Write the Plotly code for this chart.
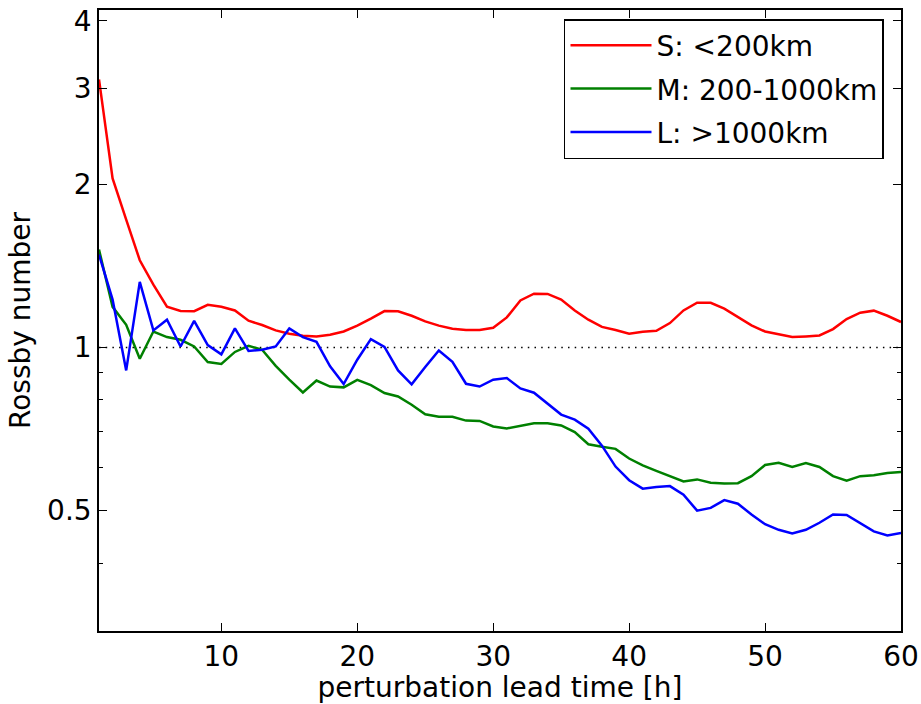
import plotly.graph_objects as go

# lead time [h]
lead_time = list(range(1, 61))

# Rossby number per scale band
small_S = [3.12, 2.05, 1.72, 1.448, 1.305, 1.189, 1.167, 1.166, 1.198, 1.188,
           1.170, 1.120, 1.100, 1.075, 1.060, 1.051, 1.048, 1.055, 1.070, 1.097,
           1.130, 1.167, 1.166, 1.144, 1.117, 1.097, 1.083, 1.077, 1.077, 1.087,
           1.136, 1.221, 1.256, 1.255, 1.225, 1.170, 1.125, 1.091, 1.077, 1.060,
           1.069, 1.073, 1.109, 1.170, 1.209, 1.209, 1.179, 1.139, 1.098, 1.070,
           1.057, 1.045, 1.048, 1.052, 1.081, 1.128, 1.159, 1.169, 1.144, 1.114]

medium_M = [1.515, 1.188, 1.101, 0.953, 1.070, 1.045, 1.033, 1.004, 0.940, 0.932,
            0.981, 1.007, 0.990, 0.925, 0.872, 0.826, 0.869, 0.847, 0.844, 0.871,
            0.852, 0.824, 0.812, 0.784, 0.753, 0.745, 0.745, 0.733, 0.732, 0.715,
            0.709, 0.716, 0.725, 0.725, 0.718, 0.698, 0.663, 0.656, 0.650, 0.624,
            0.606, 0.592, 0.579, 0.566, 0.571, 0.563, 0.561, 0.562, 0.579, 0.607,
            0.613, 0.602, 0.612, 0.602, 0.579, 0.568, 0.579, 0.581, 0.587, 0.589]

large_L = [1.483, 1.225, 0.907, 1.321, 1.075, 1.125, 1.004, 1.119, 1.010, 0.971,
           1.084, 0.985, 0.990, 1.004, 1.084, 1.045, 1.024, 0.923, 0.856, 0.949,
           1.036, 1.002, 0.907, 0.855, 0.920, 0.987, 0.941, 0.857, 0.847, 0.872,
           0.878, 0.840, 0.825, 0.789, 0.752, 0.736, 0.708, 0.659, 0.603, 0.569,
           0.549, 0.553, 0.555, 0.535, 0.500, 0.506, 0.523, 0.515, 0.492, 0.472,
           0.461, 0.454, 0.461, 0.475, 0.492, 0.491, 0.475, 0.458, 0.450, 0.455]

series_names = ["S: <200km", "M: 200-1000km", "L: >1000km"]
series_colors = ["#ff0000", "#008000", "#0000ff"]

ref_level = 1.0
y_major_ticks = [0.5, 1, 2, 3, 4]
y_major_text = ["0.5", "1", "2", "3", "4"]
y_minor_ticks = [0.4, 0.6, 0.7, 0.8, 0.9]
x_ticks = [10, 20, 30, 40, 50, 60]

FONT = "DejaVu Sans"

fig = go.Figure()

fig.add_trace(go.Scatter(
    x=[lead_time[0], lead_time[-1]], y=[ref_level, ref_level],
    mode="lines", line=dict(color="black", width=1.5, dash="1.5px,5.2px"),
    showlegend=False, hoverinfo="skip"))

for name, vals, col in zip(series_names, [small_S, medium_M, large_L], series_colors):
    fig.add_trace(go.Scatter(
        x=lead_time, y=vals, mode="lines", name=name,
        line=dict(color=col, width=2.5), legendgroup=name))

axis_common = dict(
    showline=True, linecolor="black", linewidth=1.5, mirror="ticks",
    ticks="inside", ticklen=8, tickwidth=1, tickcolor="black",
    showgrid=False, zeroline=False, automargin=False,
    tickfont=dict(family=FONT, size=28, color="black"),
)

fig.update_xaxes(
    range=[1, 60], tickvals=x_ticks,
    title=dict(text="perturbation lead time [h]", font=dict(family=FONT, size=28, color="black"), standoff=4),
    **axis_common)

fig.update_yaxes(
    type="log", range=[-0.5229, 0.6222],
    tickvals=y_major_ticks, ticktext=y_major_text,
    minor=dict(tickvals=y_minor_ticks, ticks="inside", ticklen=4, tickcolor="black", tickwidth=1, showgrid=False),
    title=dict(text="Rossby number", font=dict(family=FONT, size=28, color="black"), standoff=8),
    **axis_common)

fig.update_layout(
    width=921, height=704,
    margin=dict(l=99, r=20, t=10, b=73),
    paper_bgcolor="white", plot_bgcolor="white",
    font=dict(family=FONT, size=28, color="black"),
    showlegend=True,
    legend=dict(
        x=0.9788, y=0.9855, xanchor="right", yanchor="top",
        bgcolor="white", bordercolor="black", borderwidth=1.5,
        font=dict(family=FONT, size=28, color="black"),
        tracegroupgap=4, itemwidth=81,
    ),
)

fig.write_html("out.html")
